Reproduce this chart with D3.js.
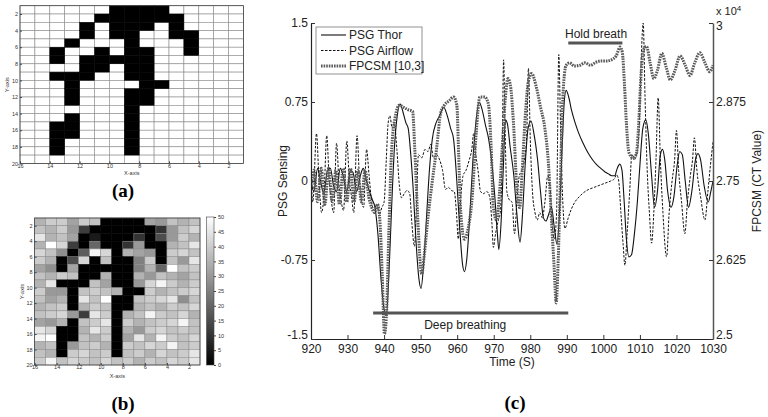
<!DOCTYPE html>
<html><head><meta charset="utf-8">
<script src="https://cdn.jsdelivr.net/npm/d3@7"></script>
<style>body{margin:0;background:#fff}svg{display:block}</style>
</head><body>
<svg id="c" width="768" height="417"></svg>
<script>
// ---------- DATA ----------
const gridXTicks = [16,14,12,10,8,6,4,2];
const gridYTicks = [2,4,6,8,10,12,14,16,18,20];
const colorbarTicks = [0,5,10,15,20,25,30,35,40,45,50];
// panel (a): binary occupancy, rows y=1..19, columns x=16..2 (left to right)
const maskA = [
 [0,0,0,0,0,0,1,1,1,1,0,0,0,0,0],
 [0,0,0,0,0,1,1,1,1,1,1,0,0,0,0],
 [0,0,0,0,1,0,1,1,1,0,1,0,0,0,0],
 [0,0,0,0,1,0,1,1,0,0,1,1,0,0,0],
 [0,0,0,1,0,0,0,1,0,0,0,1,0,0,0],
 [0,0,1,0,0,1,0,1,1,0,0,1,0,0,0],
 [0,0,1,0,1,1,1,1,1,0,0,0,0,0,0],
 [0,0,0,0,1,1,0,1,1,0,0,0,0,0,0],
 [0,0,1,1,1,0,0,1,1,0,0,0,0,0,0],
 [0,0,0,1,0,0,0,0,1,1,0,0,0,0,0],
 [0,0,0,1,0,0,0,1,1,0,0,0,0,0,0],
 [0,0,0,1,0,0,0,1,1,0,0,0,0,0,0],
 [0,0,0,0,0,0,0,1,0,0,0,0,0,0,0],
 [0,0,0,1,0,0,0,1,0,0,0,0,0,0,0],
 [0,0,1,1,0,0,0,1,0,0,0,0,0,0,0],
 [0,0,1,1,0,0,0,1,0,0,0,0,0,0,0],
 [0,0,1,0,0,0,0,1,0,0,0,0,0,0,0],
 [0,0,1,0,0,0,0,1,0,0,0,0,0,0,0],
 [0,0,0,0,0,0,0,0,0,0,0,0,0,0,0]
];
// panel (b): CT values 0..50
const valuesB = [
 [35,40,40,32,40,38,0,0,0,0,32,30,38,35,38],
 [38,35,40,30,12,0,0,0,0,0,0,10,30,38,42],
 [45,35,38,32,0,5,0,0,0,10,0,15,30,40,35],
 [35,50,42,12,0,20,0,0,10,30,0,0,35,38,45],
 [42,38,28,0,18,48,42,0,35,32,30,0,40,42,38],
 [40,35,0,15,42,0,38,0,0,25,40,0,38,30,45],
 [32,28,0,32,0,0,0,0,0,25,35,20,50,38,40],
 [38,35,40,38,0,0,35,0,0,35,30,38,35,32,38],
 [35,45,0,0,0,38,32,0,0,30,42,48,40,35,40],
 [40,30,30,0,38,40,38,35,0,0,40,35,38,40,42],
 [38,32,35,0,45,38,50,0,0,38,40,42,45,28,38],
 [35,38,40,0,35,40,38,0,0,35,38,35,40,38,42],
 [38,40,42,30,12,45,40,0,35,38,48,40,38,42,35],
 [32,30,35,0,38,40,45,0,40,35,38,40,42,48,38],
 [45,42,0,0,35,45,40,0,35,30,40,42,38,40,38],
 [48,50,0,0,38,35,40,0,32,45,35,48,40,38,42],
 [35,38,0,30,38,40,35,0,40,38,42,40,48,38,40],
 [38,35,0,40,42,38,40,0,38,40,35,42,38,40,45],
 [40,48,38,42,40,38,42,38,40,35,40,38,42,40,45]
];
// panel (c)
const timeTicks = [920,930,940,950,960,970,980,990,1000,1010,1020,1030];
const leftTicks = [-1.5,-0.75,0,0.75,1.5];
const rightTicks = [2.5,2.625,2.75,2.875,3];
const thorT = [920,920.8,921.8,922.6,923.5,924.5,925.3,926.2,927,928,928.8,929.8,930.8,931.5,932.5,933.5,934.3,935.2,936,936.8,937.5,938.3,939.2,940,940.6,941.3,942,942.8,943.6,944.4,945.2,946,946.6,947.3,948,948.7,949.5,950.1,950.8,951.6,952.4,953.2,954.2,955.2,956.3,957.2,958.2,959,959.9,960.7,961.5,962,962.6,963.5,964.3,965.1,966,966.8,967.8,968.6,969.4,970.3,971,971.4,972,972.6,973.2,973.7,974.5,975.5,976.3,977.2,977.9,978.6,979.4,980.2,981,982,982.8,983.6,984.3,985,985.8,986.6,987.3,988,988.7,989.3,989.8,990.5,991.3,992.3,993.3,994.3,995.3,996.3,997.3,998.3,999.3,1000.3,1001.3,1002.3,1003.1,1003.8,1004.5,1005.1,1005.7,1006.3,1007,1007.7,1008.5,1009.3,1010,1010.8,1011.6,1012.3,1013.2,1014,1014.8,1015.6,1016.2,1016.8,1017.6,1018.5,1019.3,1020.2,1020.9,1021.6,1022.4,1023.3,1024.2,1025.2,1025.9,1026.6,1027.6,1028.7,1029.4,1030];
const thorV = [0,-0.1,0.12,0,-0.12,0.1,0.12,-0.05,-0.1,0.12,0.05,-0.1,0.1,0.08,-0.1,0.05,0.12,0,-0.1,-0.18,-0.25,-0.5,-0.95,-1.22,-1.28,-0.9,-0.3,0.3,0.62,0.73,0.65,0.55,0.5,0.25,-0.1,-0.55,-0.92,-1.02,-0.8,-0.35,0.1,0.4,0.55,0.62,0.7,0.63,0.5,0.4,0,-0.45,-0.8,-0.86,-0.75,-0.3,0.2,0.55,0.75,0.68,0.52,0.4,0.2,-0.15,-0.5,-0.65,-0.4,0.1,0.58,0.55,0.32,0.05,-0.3,-0.58,-0.3,0.15,0.5,0.57,0.45,0.2,-0.1,-0.35,-0.38,-0.32,-0.25,-0.45,-0.6,-0.3,0.3,0.75,0.86,0.8,0.67,0.55,0.45,0.37,0.3,0.24,0.19,0.15,0.12,0.09,0.07,0.05,0.05,0.12,0.16,0.1,-0.2,-0.55,-0.72,-0.7,-0.5,-0.2,0.15,0.5,0.58,0.45,0.05,-0.25,-0.1,0.25,0.3,0.2,-0.1,-0.25,-0.15,0.15,0.28,0.25,0,-0.25,-0.1,0.2,0.26,0.2,-0.05,-0.2,-0.1,0];
const airT = [920,920.5,921.5,922.2,922.9,923.6,924.3,925,925.6,926.2,927,927.7,928.3,928.9,929.8,930.5,931.1,931.7,932.6,933.3,933.9,934.4,935.2,935.9,936.6,937.3,938,938.7,939.4,940,940.6,941.1,941.6,942.2,942.8,943.5,944.2,944.8,945.5,946.3,947,947.6,948.3,948.8,949.4,950.3,951.2,952,952.8,953.5,954.3,955.2,956,956.8,957.6,958.4,959.2,959.8,960.3,960.9,961.6,962.4,963.3,964,964.5,965.1,965.7,966.4,967.2,968.1,968.9,969.5,969.9,970.5,971.2,971.8,972.3,972.7,973.1,973.6,974.3,975,975.7,976.4,977,977.7,978.4,979,979.5,980,980.6,981.3,981.9,982.6,983.3,984,984.8,985.4,986,986.6,987.2,987.8,988.3,988.9,989.5,990.3,991.2,992.2,993.4,994.6,996,997.5,999,1000.5,1002,1003,1003.6,1004.2,1004.8,1005.4,1005.9,1006.5,1007.2,1007.8,1008.4,1009.1,1009.8,1010.4,1010.9,1011.4,1012,1012.6,1013.2,1013.8,1014.4,1015,1015.6,1016.3,1017.3,1018,1018.8,1019.5,1020,1020.6,1021.4,1022.3,1023,1023.8,1024.4,1024.9,1025.6,1026.6,1027.8,1028.6,1029.3,1030];
const airV = [0.05,-0.2,0.45,0,-0.3,-0.1,0.43,0,-0.2,-0.3,0.36,-0.05,-0.2,-0.28,0.38,0,-0.15,-0.3,0.43,0,-0.2,-0.25,0.3,0.05,-0.2,-0.28,-0.22,-0.32,-0.25,-0.2,0.2,0.55,0.62,0.5,0.55,0.3,-0.05,-0.16,-0.12,-0.09,-0.12,-0.4,-0.62,-0.3,0.25,0.22,0.3,0.28,0.35,0.22,0.25,0.2,0.1,-0.08,-0.06,-0.09,-0.1,-0.3,-0.55,-0.2,0.05,0.1,0.2,0.3,0.45,0.25,0.1,-0.1,-0.12,-0.1,-0.15,-0.4,-0.63,-0.5,-0.38,-0.3,0.2,1.15,0.5,-0.1,-0.18,-0.2,-0.5,-0.15,0.05,0.1,0.2,0.4,1.07,0.4,-0.1,-0.3,-0.37,-0.3,-0.35,-0.2,0.05,-0.05,-0.4,-0.55,-0.3,1.2,0.5,-0.2,-0.45,-0.36,-0.27,-0.2,-0.15,-0.11,-0.08,-0.06,-0.04,-0.02,0,0.02,0.06,0,-0.3,-0.6,-0.8,-0.5,-0.1,0.25,0.2,0.25,0.5,1.2,1.5,0.8,0.1,-0.3,-0.59,-0.3,0.2,0.79,0.2,-0.3,-0.72,-0.3,0,0.2,0.48,0.1,-0.2,-0.5,-0.2,0.05,0.2,0.41,0.1,-0.15,-0.37,-0.1,0.15,0.37];
const fpT = [920,920.8,921.8,922.8,923.8,924.8,925.8,926.8,927.8,928.8,929.8,930.8,931.8,932.8,933.8,934.8,935.8,936.6,937.4,938.2,938.9,939.5,940.1,940.6,941.3,942,943,944.2,945.2,946.5,947.8,948.4,949.2,950.3,951,952,953.2,954.4,955.5,956.5,957.8,959,959.9,960.4,960.9,962,963,964,965.2,966.2,967.5,968.5,969.3,969.9,970.8,971.6,972.3,973.2,973.9,974.6,975.4,976.3,977.1,977.8,978.6,979.5,980.4,981.6,982.8,984,985,985.8,986.5,987.1,987.6,988.2,989,989.8,990.8,992,993.5,995,996.5,998,999.5,1001,1002.3,1003.5,1004.6,1005.2,1005.8,1006.3,1007,1008,1009,1009.6,1010.3,1011,1011.8,1012.8,1013.8,1014.8,1016,1017.2,1018.3,1019.6,1021,1022.4,1023.7,1025,1026.4,1027.8,1029.1,1030];
const fpV = [2.742,2.767,2.717,2.770,2.713,2.770,2.717,2.767,2.713,2.770,2.717,2.770,2.717,2.767,2.717,2.767,2.725,2.708,2.700,2.713,2.683,2.600,2.508,2.533,2.667,2.792,2.850,2.870,2.867,2.863,2.860,2.800,2.692,2.603,2.633,2.692,2.750,2.803,2.858,2.870,2.877,2.883,2.870,2.793,2.708,2.658,2.675,2.717,2.825,2.883,2.883,2.873,2.803,2.708,2.688,2.733,2.800,2.883,2.912,2.900,2.842,2.742,2.708,2.767,2.850,2.908,2.920,2.900,2.867,2.833,2.775,2.688,2.617,2.557,2.617,2.742,2.892,2.933,2.937,2.932,2.933,2.937,2.933,2.938,2.940,2.940,2.942,2.948,2.962,2.953,2.900,2.842,2.795,2.787,2.792,2.833,2.917,2.958,2.963,2.937,2.912,2.925,2.952,2.930,2.910,2.925,2.948,2.933,2.917,2.937,2.953,2.937,2.923,2.933];
const legendNames = ["PSG Thor","PSG Airflow","FPCSM [10,3]"];
const holdSpan = [990.4,1005.2], holdLevel = 1.31;
const deepSpan = [937,990.4], deepLevel = -1.254;

// ---------- DRAW ----------
const svg = d3.select("#c");
const SANS = "'Liberation Sans', Arial, sans-serif";
const SERIF = "'Liberation Serif', 'Times New Roman', serif";
const defs = svg.append("defs");

// Panel (a)
const xa = d3.scaleLinear().domain([16,1]).range([20,243.5]);
const ya = d3.scaleLinear().domain([1,20]).range([5.7,163.4]);
const gA = svg.append("g");
const cellsA = [];
maskA.forEach((row,r)=>row.forEach((v,c)=>cellsA.push({r,c,v})));
gA.selectAll("rect.w").data(cellsA).join("rect")
  .attr("x",d=>xa(16-d.c)).attr("y",d=>ya(1+d.r))
  .attr("width",d=>xa(15-d.c)-xa(16-d.c)).attr("height",d=>ya(2+d.r)-ya(1+d.r))
  .attr("fill","#fff").attr("stroke","#8c8c8c").attr("stroke-width",0.6);
gA.selectAll("rect.b").data(cellsA.filter(d=>d.v)).join("rect")
  .attr("x",d=>xa(16-d.c)).attr("y",d=>ya(1+d.r))
  .attr("width",d=>xa(15-d.c)-xa(16-d.c)).attr("height",d=>ya(2+d.r)-ya(1+d.r))
  .attr("fill","#000").attr("stroke","#000").attr("stroke-width",0.4);
gA.append("rect").attr("x",xa(16)).attr("y",ya(1)).attr("width",xa(1)-xa(16)).attr("height",ya(20)-ya(1))
  .attr("fill","none").attr("stroke","#444").attr("stroke-width",0.8);

function smallAxes(g, xs, ys, bottom){
  const ax = g.append("g").attr("transform",`translate(0,${bottom})`)
    .call(d3.axisBottom(xs).tickValues(gridXTicks).tickSize(-2).tickSizeOuter(0).tickPadding(0.5));
  const ay = g.append("g").attr("transform",`translate(${xs.range()[0]},0)`)
    .call(d3.axisLeft(ys).tickValues(gridYTicks).tickSize(-2).tickSizeOuter(0).tickPadding(2));
  [ax,ay].forEach(a=>{a.select(".domain").remove();
    a.selectAll("text").attr("font-family",SANS).attr("font-size",5.5).attr("fill","#333");
    a.selectAll("line").attr("stroke","#444");});
}
smallAxes(gA, xa, ya, ya(20));
gA.append("text").attr("x",xa(8.5)).attr("y",175).attr("text-anchor","middle")
  .attr("font-family",SANS).attr("font-size",5.5).attr("fill","#333").text("X-axis");
gA.append("text").attr("transform",`translate(9,${ya(10.5)}) rotate(-90)`).attr("text-anchor","middle")
  .attr("font-family",SANS).attr("font-size",5.5).attr("fill","#333").text("Y-axis");
svg.append("text").attr("x",123).attr("y",197).attr("text-anchor","middle")
  .attr("font-family",SERIF).attr("font-weight","bold").attr("font-size",19).text("(a)");

// Panel (b)
const xb = d3.scaleLinear().domain([16,1]).range([34.6,200]);
const yb = d3.scaleLinear().domain([1,20]).range([218,365]);
const gray = d3.scaleLinear().domain([0,50]).range(["#000","#fff"]);
const gB = svg.append("g");
const cellsB = [];
valuesB.forEach((row,r)=>row.forEach((v,c)=>cellsB.push({r,c,v})));
gB.selectAll("rect").data(cellsB).join("rect")
  .attr("x",d=>xb(16-d.c)).attr("y",d=>yb(1+d.r))
  .attr("width",d=>xb(15-d.c)-xb(16-d.c)).attr("height",d=>yb(2+d.r)-yb(1+d.r))
  .attr("fill",d=>gray(d.v)).attr("stroke",d=>d.v<6?"#000":"#8c8c8c").attr("stroke-width",0.5);
gB.append("rect").attr("x",xb(16)).attr("y",yb(1)).attr("width",xb(1)-xb(16)).attr("height",yb(20)-yb(1))
  .attr("fill","none").attr("stroke","#444").attr("stroke-width",0.8);
smallAxes(gB, xb, yb, yb(20));
gB.append("text").attr("x",xb(8.5)).attr("y",378).attr("text-anchor","middle")
  .attr("font-family",SANS).attr("font-size",5.5).attr("fill","#333").text("X-axis");
gB.append("text").attr("transform",`translate(24,${yb(10.5)}) rotate(-90)`).attr("text-anchor","middle")
  .attr("font-family",SANS).attr("font-size",5.5).attr("fill","#333").text("Y-axis");
// colorbar
const cbY = d3.scaleLinear().domain([0,50]).range([365,217]);
const grad = defs.append("linearGradient").attr("id","cbg").attr("x1",0).attr("y1",1).attr("x2",0).attr("y2",0);
grad.append("stop").attr("offset","0%").attr("stop-color",gray(0));
grad.append("stop").attr("offset","100%").attr("stop-color",gray(50));
svg.append("rect").attr("x",206.5).attr("y",cbY(50)).attr("width",7.5).attr("height",cbY(0)-cbY(50))
  .attr("fill","url(#cbg)").attr("stroke","#444").attr("stroke-width",0.6);
const cbAx = svg.append("g").attr("transform","translate(214,0)")
  .call(d3.axisRight(cbY).tickValues(colorbarTicks).tickSize(2).tickSizeOuter(0).tickPadding(2));
cbAx.select(".domain").remove();
cbAx.selectAll("text").attr("font-family",SANS).attr("font-size",5.5).attr("fill","#333");
cbAx.selectAll("line").attr("stroke","#444");
svg.append("text").attr("x",123).attr("y",410).attr("text-anchor","middle")
  .attr("font-family",SERIF).attr("font-weight","bold").attr("font-size",19).text("(b)");

// Panel (c)
const xc = d3.scaleLinear().domain([920,1030]).range([311,713]);
const yl = d3.scaleLinear().domain([-1.5,1.5]).range([339,23]);
const yr = d3.scaleLinear().domain([2.5,3.0]).range([339,23]);
const gC = svg.append("g");
defs.append("clipPath").attr("id","pc").append("rect")
  .attr("x",311).attr("y",20).attr("width",402).attr("height",320);

const lineL = d3.line().x(d=>xc(d[0])).y(d=>yl(d[1])).curve(d3.curveMonotoneX);
const lineR = d3.line().x(d=>xc(d[0])).y(d=>yr(d[1])).curve(d3.curveMonotoneX);
const thor = d3.zip(thorT,thorV), air = d3.zip(airT,airV), fp = d3.zip(fpT,fpV);
const plot = gC.append("g").attr("clip-path","url(#pc)");
plot.append("path").attr("d",lineL(thor)).attr("fill","none").attr("stroke","#111").attr("stroke-width",1.1);
plot.append("path").attr("d",lineL(air)).attr("fill","none").attr("stroke","#111").attr("stroke-width",1)
  .attr("stroke-dasharray","2.5,1.5");
plot.append("path").attr("d",lineR(fp)).attr("fill","none").attr("stroke","#5a5a5a").attr("stroke-width",3)
  .attr("stroke-dasharray","1.6,1");

// annotation bars
gC.append("line").attr("x1",xc(holdSpan[0])).attr("x2",xc(holdSpan[1])).attr("y1",yl(holdLevel)).attr("y2",yl(holdLevel))
  .attr("stroke","#555").attr("stroke-width",3);
gC.append("line").attr("x1",xc(deepSpan[0])).attr("x2",xc(deepSpan[1])).attr("y1",yl(deepLevel)).attr("y2",yl(deepLevel))
  .attr("stroke","#555").attr("stroke-width",3);
gC.append("text").attr("x",xc(998)).attr("y",38).attr("text-anchor","middle")
  .attr("font-family",SANS).attr("font-size",12).attr("fill","#222").text("Hold breath");
gC.append("text").attr("x",xc(962.2)).attr("y",329).attr("text-anchor","middle")
  .attr("font-family",SANS).attr("font-size",12).attr("fill","#222").text("Deep breathing");

// axes
const axB = gC.append("g").attr("transform","translate(0,339)")
  .call(d3.axisBottom(xc).tickValues(timeTicks).tickSize(-4).tickSizeOuter(0).tickPadding(5).tickFormat(d=>String(d)));
const axL = gC.append("g").attr("transform","translate(311,0)")
  .call(d3.axisLeft(yl).tickValues(leftTicks).tickSize(-4).tickSizeOuter(0).tickPadding(3).tickFormat(d=>String(d)));
const axR = gC.append("g").attr("transform","translate(713,0)")
  .call(d3.axisRight(yr).tickValues(rightTicks).tickSize(-4).tickSizeOuter(0).tickPadding(3).tickFormat(d=>String(d)));
[axB,axL,axR].forEach(a=>{
  a.selectAll("text").attr("font-family",SANS).attr("font-size",12).attr("fill","#222");
  a.selectAll("line").attr("stroke","#333");
  a.select(".domain").attr("stroke","#222").attr("stroke-width",1.2);
});
axR.select(".domain").attr("stroke","#555").attr("stroke-width",1.5);
// nudge end labels so they clear the time labels and exponent
axR.selectAll(".tick").filter(d=>d===3).select("text").attr("dy","0.55em");
axR.selectAll(".tick").filter(d=>d===2.5).select("text").attr("dy","-0.05em");
axL.selectAll(".tick").filter(d=>d===-1.5).select("text").attr("dy","-0.05em");
// exponent
const ex = gC.append("text").attr("x",716).attr("y",15).attr("font-family",SANS).attr("font-size",11).attr("fill","#222");
ex.append("tspan").text("x 10");
ex.append("tspan").attr("dy",-4).attr("font-size",8).text("4");

gC.append("text").attr("x",xc(975)).attr("y",366).attr("text-anchor","middle")
  .attr("font-family",SANS).attr("font-size",12).attr("fill","#222").text("Time (S)");
gC.append("text").attr("transform",`translate(287,181) rotate(-90)`).attr("text-anchor","middle")
  .attr("font-family",SANS).attr("font-size",12).attr("fill","#222").text("PSG Sensing");
gC.append("text").attr("transform",`translate(761,181) rotate(-90)`).attr("text-anchor","middle")
  .attr("font-family",SANS).attr("font-size",12).attr("fill","#222").text("FPCSM (CT Value)");
svg.append("text").attr("x",515).attr("y",409).attr("text-anchor","middle")
  .attr("font-family",SERIF).attr("font-weight","bold").attr("font-size",19).text("(c)");

// legend
const lg = gC.append("g").attr("transform","translate(316,27)");
lg.append("rect").attr("width",106).attr("height",47).attr("fill","#fff").attr("stroke","#777").attr("stroke-width",0.8);
const lstyles = [
  {stroke:"#111",w:1.1,dash:null},
  {stroke:"#111",w:1,dash:"2.5,1.5"},
  {stroke:"#5a5a5a",w:3,dash:"1.6,1"}];
legendNames.forEach((n,i)=>{
  const y = 8 + i*15.5;
  lg.append("line").attr("x1",5).attr("x2",30).attr("y1",y).attr("y2",y)
    .attr("stroke",lstyles[i].stroke).attr("stroke-width",lstyles[i].w).attr("stroke-dasharray",lstyles[i].dash);
  lg.append("text").attr("x",33).attr("y",y+4).attr("font-family",SANS).attr("font-size",12).attr("fill","#222").text(n);
});
</script>
</body></html>
